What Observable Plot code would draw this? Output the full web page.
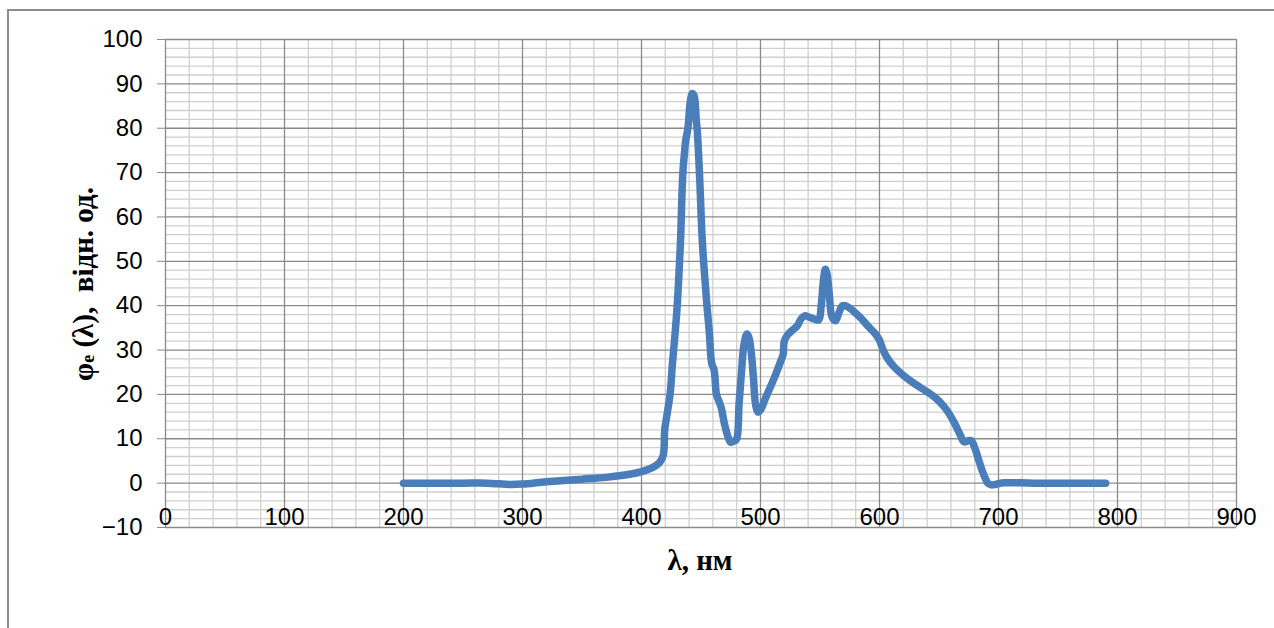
<!DOCTYPE html>
<html>
<head>
<meta charset="utf-8">
<script src="https://cdn.jsdelivr.net/npm/d3@7"></script>
<script src="https://cdn.jsdelivr.net/npm/@observablehq/plot@0.6"></script>
<style>
  html, body { margin: 0; padding: 0; background: #fff; }
  #wrap { position: relative; width: 1274px; height: 628px; overflow: hidden; }
  #frame { position: absolute; left: 7px; top: 9px; width: 1300px; height: 700px;
           border-left: 2px solid #8c8c8c; border-top: 2px solid #8c8c8c; }
  .title { position: absolute; font-family: "Liberation Serif", "Times New Roman", serif;
           font-weight: bold; font-size: 29px; color: #000; white-space: pre; line-height: 1; }
  .title sub { font-size: 18px; vertical-align: -1px; }
  #xtitle { left: 0; width: 1400px; text-align: center; top: 546px; }
  #ytitle { left: 83px; top: 284px; transform: translate(-50%, -50%) rotate(-90deg); }
</style>
</head>
<body>
<div id="wrap">
  <div id="frame"></div>
  <div id="chart"></div>
  <div class="title" id="xtitle">λ, нм</div>
  <div class="title" id="ytitle">φ<sub>e</sub> (λ),  відн. од.</div>
</div>
<script>
// Wavelength, nm
const wavelength = [200,250,270,290,300,320,350,370,390,400,410,415,418,419,419.5,421,424,426,428,430,432,433,434,435,436,437,439,441,442.5,444,445,446,447,449,451,453,455,457,459,461,463,465,467,470,473,475,478,480,482,484,486,488.5,490,492,494,496,498,500,504,508,512,517,519,520,523,527,531,534,537,541,545,549,551,553,554.5,556,558,560,563,566,569,573,578,584,590,596,600,603,607,612,620,630,640,648,655,660,664,668,671,674,677,680,683,686,689,691,694,697,700,705,710,730,760,790];
// Relative spectral value φe(λ)
const phi = [0,0,0,-0.3,-0.2,0.3,0.9,1.3,2.0,2.6,3.6,4.6,6,8,12,14.7,20,27,33,40,50,56,65,71,74,77,80,86,87.8,87.5,86,82,79,68,55,47,40,34,27,25.5,20,18.5,17,13,10.2,9.2,9.5,10,18,25,31,33.6,33,30,24,17.5,16,16.5,19,21.5,24,27.5,29,32,33.5,34.5,35.5,37,37.7,37.4,37,36.8,40,46,48.2,47,42,37.5,36.6,38.5,40,39.8,38.8,37.3,35.5,33.8,32.2,30,28,26.3,24.3,22.3,20.6,19,17,15,13,10.8,9.3,9.5,9.6,8,5.5,3,1,0,-0.4,-0.3,-0.1,0.1,0.1,0,0,0];

const xTicks = [0,100,200,300,400,500,600,700,800,900];
const yTicks = [-10,0,10,20,30,40,50,60,70,80,90,100];
const xMinor = d3.range(0, 901, 20).filter(v => v % 100 !== 0);
const yMinor = d3.range(-10, 101, 2).filter(v => v % 10 !== 0);

const data = wavelength.map((w, i) => ({w, v: phi[i]}));

const chart = Plot.plot({
  width: 1274,
  height: 628,
  marginLeft: 165,
  marginRight: 38,
  marginTop: 39,
  marginBottom: 101,
  style: {fontFamily: "'Liberation Sans', Arial, sans-serif", fontSize: "24px", color: "#000", background: "transparent"},
  x: {domain: [0, 900], axis: null, label: null},
  y: {domain: [-10, 100], axis: null, label: null},
  marks: [
    Plot.ruleY(yMinor, {stroke: "#cfcfcf", strokeWidth: 1.3}),
    Plot.ruleX(xMinor, {stroke: "#cfcfcf", strokeWidth: 1.3}),
    Plot.ruleY(yTicks, {stroke: "#8a8a8a", strokeWidth: 1.3}),
    Plot.ruleX(xTicks, {stroke: "#8a8a8a", strokeWidth: 1.3}),
    Plot.axisY(yTicks, {tickSize: 8, tickPadding: 15, stroke: "#8a8a8a", fill: "#000", fontSize: 24, label: null}),
    Plot.text(xTicks, {x: d => d, y: -10, dy: -10, text: d => String(d), fill: "#000", fontSize: 24}),
    Plot.line(data, {x: "w", y: "v", stroke: "#4a7ebb", strokeWidth: 7.5, curve: "catmull-rom", strokeLinecap: "round", strokeLinejoin: "round"})
  ]
});
document.getElementById("chart").appendChild(chart);
</script>
</body>
</html>
